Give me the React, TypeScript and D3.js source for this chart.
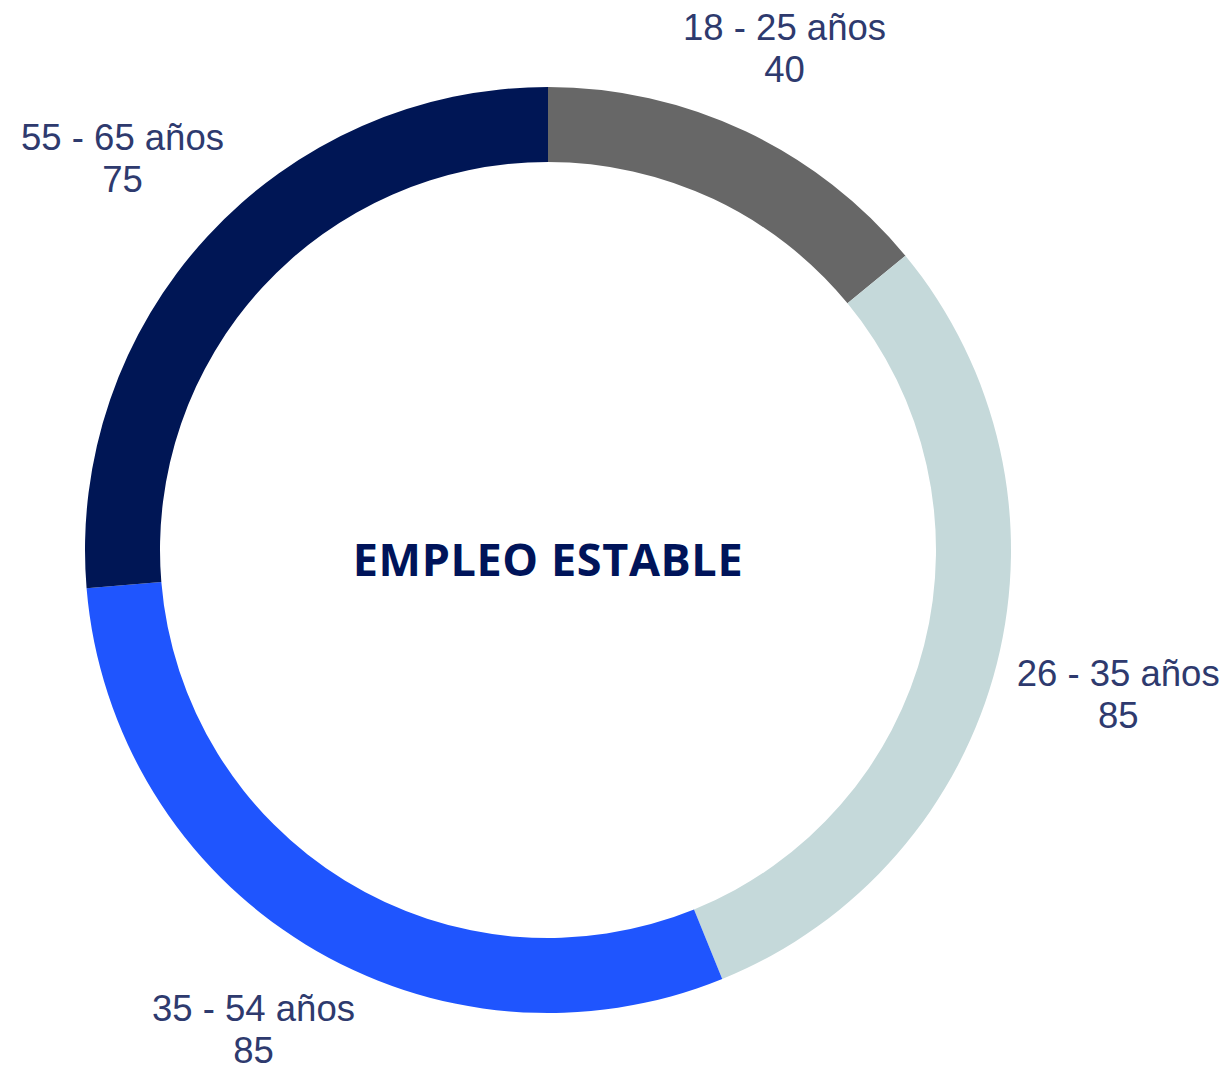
import React, { useRef, useEffect } from 'react';
import * as d3 from 'd3';

// Chart data
const categories = ['18 - 25 años', '26 - 35 años', '35 - 54 años', '55 - 65 años'];
const values = [40, 85, 85, 75];
const colors = ['#676767', '#c5d9da', '#1f55fe', '#001655'];
const centerTitle = 'EMPLEO ESTABLE';

const WIDTH = 1231;
const HEIGHT = 1076;

function DonutChart() {
  const svgRef = useRef<SVGSVGElement>(null);

  useEffect(() => {
    const svg = d3.select(svgRef.current);
    svg.selectAll('*').remove();

    const cx = 548;
    const cy = 550;
    const outer = 463;
    const inner = 388;

    const g = svg.append('g').attr('transform', `translate(${cx},${cy})`);

    const pie = d3.pie<number>().sort(null).value(d => d);
    const arcs = pie(values);
    const arc = d3.arc<d3.PieArcDatum<number>>().innerRadius(inner).outerRadius(outer);

    g.selectAll('path.slice')
      .data(arcs)
      .join('path')
      .attr('class', 'slice')
      .attr('d', arc)
      .attr('fill', (d, i) => colors[i]);

    // center title
    g.append('text')
      .attr('x', 0)
      .attr('y', 8)
      .attr('text-anchor', 'middle')
      .attr('dominant-baseline', 'central')
      .attr('font-family', '"Open Sans", sans-serif')
      .attr('font-weight', 700)
      .attr('font-size', 45)
      .attr('letter-spacing', 0.6)
      .attr('fill', '#00145a')
      .text(centerTitle);

    // outside labels: box pushed out so its nearest edge sits on a circle
    const labelR = 482;
    const fontSize = 36.5;
    const lineGap = 42;
    const boxH = 64;
    arcs.forEach((d, i) => {
      const a = (d.startAngle + d.endAngle) / 2;
      const ux = Math.sin(a);
      const uy = -Math.cos(a);
      const lab = g.append('text')
        .attr('text-anchor', 'middle')
        .attr('font-family', '"Liberation Sans", Arial, sans-serif')
        .attr('font-size', fontSize)
        .attr('fill', '#2e3a6e');
      const t1 = lab.append('tspan').attr('x', 0).text(categories[i]);
      lab.append('tspan').attr('x', 0).text(String(values[i]));
      const w = (t1.node() as SVGTSpanElement).getComputedTextLength();
      const off = labelR + Math.abs(ux) * w / 2 + Math.abs(uy) * boxH / 2;
      const lx = ux * off;
      const ly = uy * off;
      lab.selectAll('tspan')
        .attr('x', lx)
        .attr('y', (_, j) => ly + (j === 0 ? -lineGap / 2 : lineGap / 2))
        .attr('dominant-baseline', 'central');
    });
  }, []);

  return <svg ref={svgRef} width={WIDTH} height={HEIGHT} style={{ display: 'block', background: '#fff' }} />;
}

export default function App() {
  return (
    <div style={{ position: 'absolute', left: 0, top: 0 }}>
      <DonutChart />
    </div>
  );
}
